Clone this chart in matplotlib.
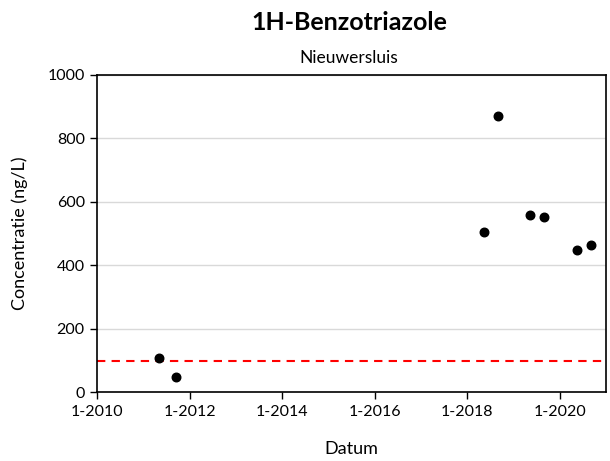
import matplotlib.pyplot as plt
import matplotlib.dates as mdates
import pandas as pd

plt.rcParams['font.family'] = ['Lato', 'DejaVu Sans']

# Sample dates and measured concentrations (ng/L)
dates = ['2011-05-01', '2011-09-15', '2018-05-15', '2018-09-01',
         '2019-05-10', '2019-09-01', '2020-05-15', '2020-09-05']
values = [110, 50, 505, 870, 560, 551, 448, 464]
norm = 100  # target value line

ticks = ['2010-01-01', '2012-01-01', '2014-01-01', '2016-01-01', '2018-01-01', '2020-01-01']
tick_labels = ['1-2010', '1-2012', '1-2014', '1-2016', '1-2018', '1-2020']

dates = pd.to_datetime(dates)
ticks = pd.to_datetime(ticks)

fig = plt.figure(figsize=(6.1, 4.61), dpi=100)
ax = fig.add_axes([0.1595, 0.1486, 0.8339, 0.6894])

ax.axhline(norm, color='#ff0000', linestyle=(0, (4, 3)), linewidth=1.5, zorder=2)
ax.scatter(dates, values, s=38, color='black', zorder=3)

ax.set_xlim(pd.Timestamp('2010-01-01'), pd.Timestamp('2021-01-01'))
ax.set_ylim(0, 1000)
ax.set_yticks(range(0, 1001, 200))
ax.grid(axis='y', color='#d9d9d9', linewidth=1)
ax.set_axisbelow(True)

ax.set_xticks(ticks)
ax.set_xticklabels(tick_labels)
ax.tick_params(labelsize=11.5, length=5, width=1, direction='out', pad=4)

for s in ax.spines.values():
    s.set_linewidth(1.2)

ax.set_xlabel('Datum', fontsize=13, labelpad=16)
ax.set_ylabel('Concentratie (ng/L)', fontsize=13, labelpad=14)

fig.text(0.572, 0.952, '1H-Benzotriazole', ha='center', va='center',
         fontsize=18, fontweight='bold')
fig.text(0.572, 0.874, 'Nieuwersluis', ha='center', va='center', fontsize=12.5)

plt.savefig('out.png', dpi=100)
